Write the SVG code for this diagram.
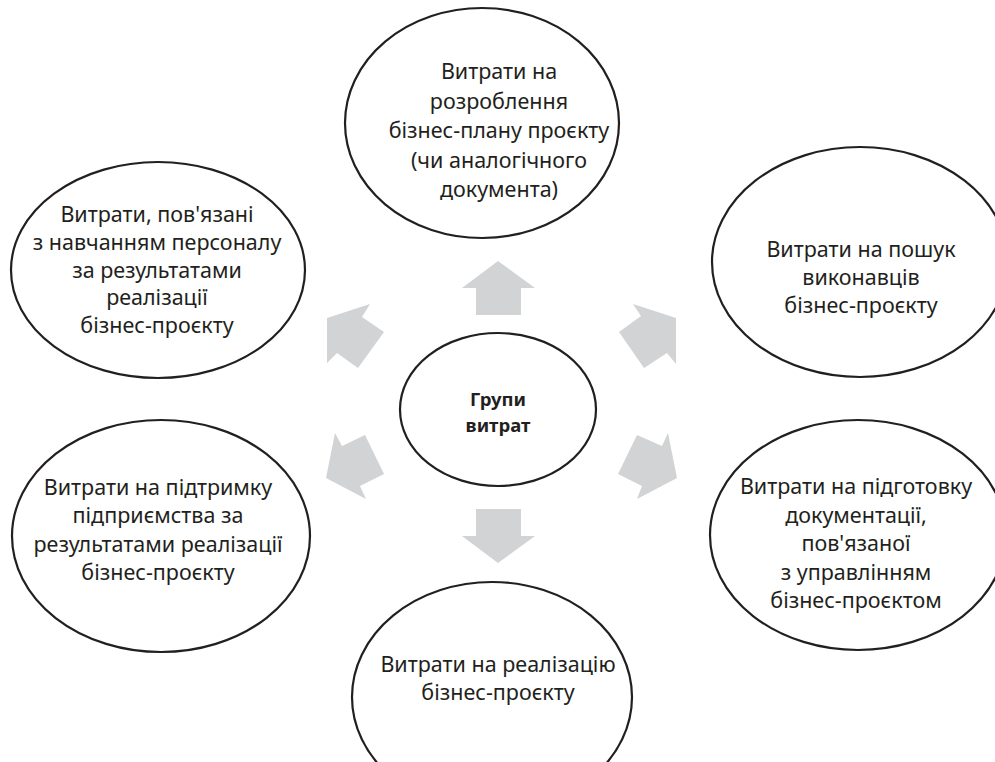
<svg xmlns="http://www.w3.org/2000/svg" width="995" height="762" viewBox="0 0 995 762">
<style>
.node ellipse{fill:#fff;stroke:#231f20;stroke-width:2.2}
.t{font-family:"Noto Sans","Open Sans",sans-serif;font-size:21.5px;fill:#231f20;text-anchor:middle}
.c{font-family:"Noto Sans","Open Sans",sans-serif;font-size:18.5px;font-weight:bold;fill:#231f20;text-anchor:middle}
.arr polygon{fill:#d1d3d4}
</style>
<rect width="995" height="762" fill="#fff"/>
<g id="connectors" class="arr">
<polygon points="498,261 535,288 521,288 521,315 476,315 476,288 462,288"/>
<polygon points="498,563 535,536 521,536 521,509 476,509 476,536 462,536"/>
<polygon points="327,318 370,304 362,317 384,332 358,368 337,353 327,363"/>
<polygon points="676,318 633,304 641,316 619,332 644,368 667,353 676,364"/>
<polygon points="335,433 342,446 365,435 384,474 360,486 366,499 326,478"/>
<polygon points="668,433 662,446 637,435 618,474 642,486 637,499 677,478"/>
</g>
<g id="center" class="node">
<ellipse cx="498" cy="409.5" rx="98" ry="76.5"/>
<text class="c" x="498" y="406">Групи</text>
<text class="c" x="498" y="432">витрат</text>
</g>
<g id="top" class="node">
<ellipse cx="482" cy="123" rx="137" ry="115"/>
<text class="t" x="499" y="79">Витрати на</text>
<text class="t" x="499" y="108.5">розроблення</text>
<text class="t" x="499" y="138">бізнес-плану проєкту</text>
<text class="t" x="499" y="167.5">(чи аналогічного</text>
<text class="t" x="499" y="197">документа)</text>
</g>
<g id="upper-right" class="node">
<ellipse cx="860" cy="262" rx="148" ry="115"/>
<text class="t" x="861" y="257">Витрати на пошук</text>
<text class="t" x="861" y="285">виконавців</text>
<text class="t" x="861" y="313">бізнес-проєкту</text>
</g>
<g id="lower-right" class="node">
<ellipse cx="858" cy="535" rx="148" ry="115"/>
<text class="t" x="856" y="494">Витрати на підготовку</text>
<text class="t" x="856" y="523">документації,</text>
<text class="t" x="856" y="551">пов'язаної</text>
<text class="t" x="856" y="580">з управлінням</text>
<text class="t" x="856" y="608">бізнес-проєктом</text>
</g>
<g id="upper-left" class="node">
<ellipse cx="158" cy="270" rx="147" ry="108"/>
<text class="t" x="157" y="222">Витрати, пов'язані</text>
<text class="t" x="157" y="250">з навчанням персоналу</text>
<text class="t" x="157" y="278">за результатами</text>
<text class="t" x="157" y="305">реалізації</text>
<text class="t" x="157" y="333">бізнес-проєкту</text>
</g>
<g id="lower-left" class="node">
<ellipse cx="161" cy="536" rx="149" ry="116"/>
<text class="t" x="158" y="495">Витрати на підтримку</text>
<text class="t" x="158" y="523">підприємства за</text>
<text class="t" x="158" y="552">результатами реалізації</text>
<text class="t" x="158" y="580">бізнес-проєкту</text>
</g>
<g id="bottom" class="node">
<ellipse cx="492" cy="697" rx="140" ry="115"/>
<text class="t" x="498" y="672">Витрати на реалізацію</text>
<text class="t" x="498" y="700">бізнес-проєкту</text>
</g>
</svg>
